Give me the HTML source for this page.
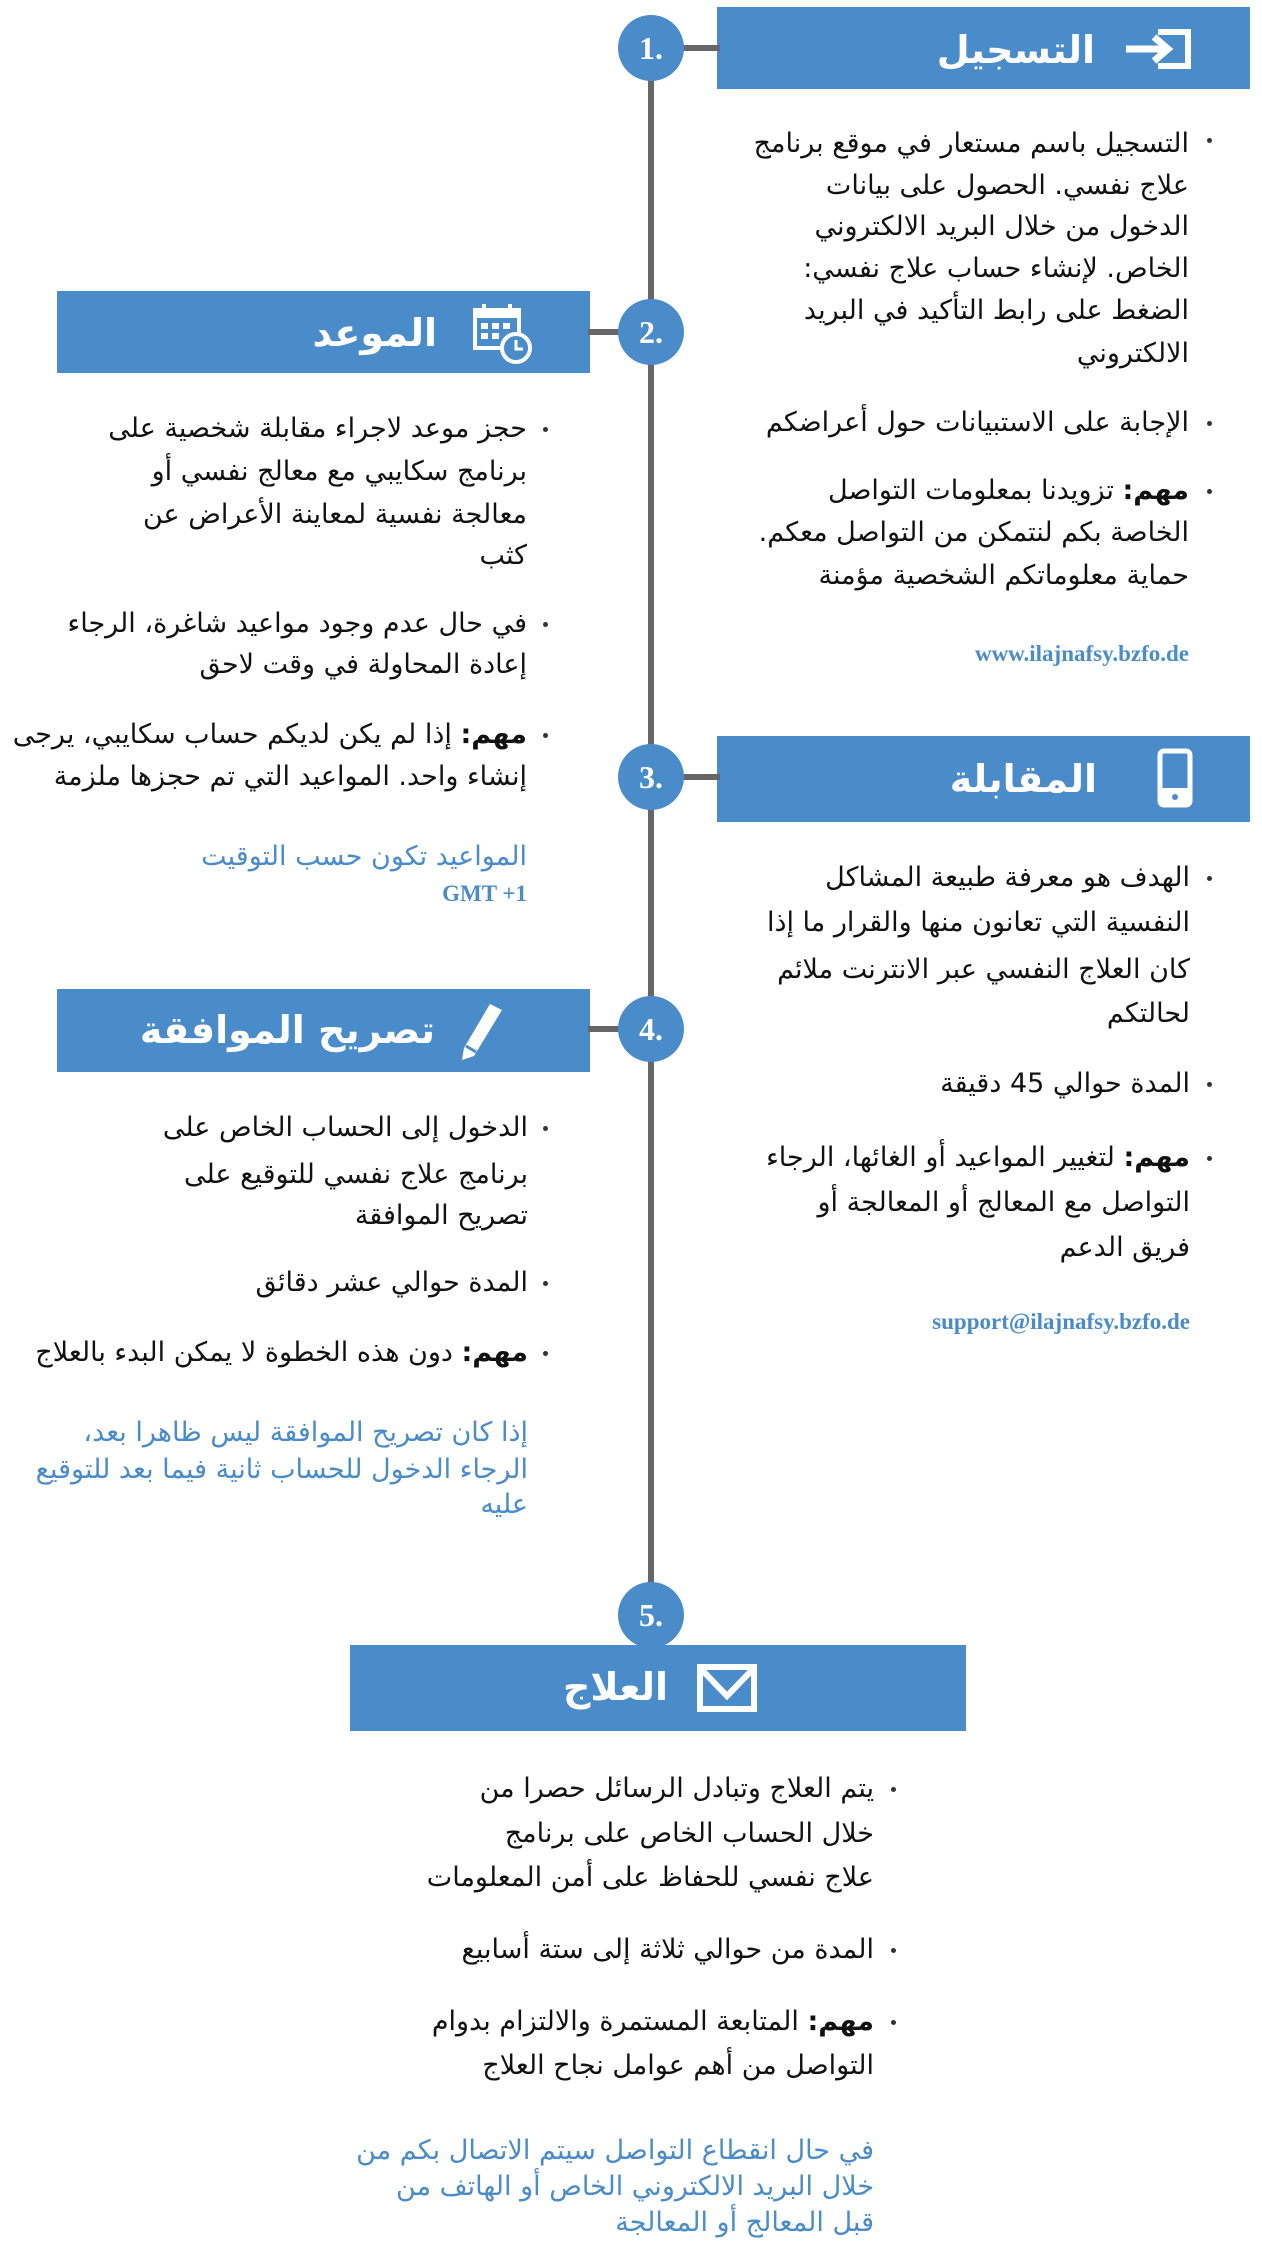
<!DOCTYPE html>
<html><head><meta charset="utf-8"><style>
body{margin:0;width:1262px;height:2258px;background:#fff;position:relative;overflow:hidden;font-family:"DejaVu Sans","Liberation Sans",sans-serif}
.a{position:absolute}
.box{position:absolute;background:#4a8cc9}
.c{position:absolute;width:66px;height:66px;border-radius:50%;background:#4a8cc9;color:#fff;font:bold 32px "Liberation Serif",serif;text-align:center;line-height:66px}
.h{position:absolute;height:6px;background:#666}
.t{position:absolute;direction:rtl;white-space:nowrap;font-size:27px;line-height:40px;color:#111}
.b{color:#4a8cc9}
.u{position:absolute;white-space:nowrap;font:bold 23px "Liberation Serif",serif;color:#4a8cc9;line-height:30px}
.d{position:absolute;width:5px;height:5px;border-radius:50%;background:#333}
.ti{position:absolute;direction:rtl;white-space:nowrap;color:#fff;font-weight:bold;font-size:38px;line-height:50px}
</style></head><body>
<div class="a" style="left:648px;top:48px;width:6px;height:1570px;background:#666"></div>

<div class="box" style="left:717px;top:7px;width:533px;height:82px"></div>
<div class="h" style="left:680px;top:45px;width:40px"></div>
<div class="c" style="left:618px;top:15px">1.</div>
<div class="ti" style="right:167px;top:25px">التسجيل</div>
<svg class="a" style="left:1124px;top:28px" width="68" height="42" viewBox="0 0 68 42"><path d="M34 4H64V38H34" fill="none" stroke="#fff" stroke-width="6"/><path d="M2 21H42M30 9L44 21L30 33" fill="none" stroke="#fff" stroke-width="7"/></svg>

<div class="box" style="left:57px;top:291px;width:533px;height:82px"></div>
<div class="h" style="left:588px;top:329px;width:40px"></div>
<div class="c" style="left:618px;top:299px">2.</div>
<div class="ti" style="right:825px;top:308px">الموعد</div>
<svg class="a" style="left:472px;top:302px" width="60" height="62" viewBox="0 0 60 62"><rect x="3" y="8" width="44" height="38" fill="none" stroke="#fff" stroke-width="4"/><rect x="3" y="8" width="44" height="8" fill="#fff"/><path d="M12 2V12M38 2V12" stroke="#fff" stroke-width="4"/><g fill="#fff"><rect x="9" y="21" width="7" height="6"/><rect x="20" y="21" width="7" height="6"/><rect x="31" y="21" width="7" height="6"/><rect x="9" y="31" width="7" height="6"/><rect x="20" y="31" width="7" height="6"/></g><circle cx="44" cy="46" r="14" fill="#4a8cc9" stroke="#fff" stroke-width="4"/><path d="M44 38V47H51" fill="none" stroke="#fff" stroke-width="3"/></svg>

<div class="box" style="left:717px;top:736px;width:533px;height:86px"></div>
<div class="h" style="left:680px;top:774px;width:40px"></div>
<div class="c" style="left:618px;top:744px">3.</div>
<div class="ti" style="right:165px;top:754px">المقابلة</div>
<svg class="a" style="left:1157px;top:748px" width="36" height="60" viewBox="0 0 36 60"><rect x="3" y="3" width="30" height="54" rx="4" fill="none" stroke="#fff" stroke-width="5"/><rect x="3" y="40" width="30" height="17" fill="#fff"/><circle cx="18" cy="49" r="3" fill="#4a8cc9"/></svg>

<div class="box" style="left:57px;top:989px;width:533px;height:83px"></div>
<div class="h" style="left:588px;top:1026px;width:40px"></div>
<div class="c" style="left:618px;top:996px">4.</div>
<div class="ti" style="right:827px;top:1005px">تصريح الموافقة</div>
<svg class="a" style="left:460px;top:1000px" width="46" height="62" viewBox="0 0 46 62"><path d="M30 4L42 10L14 56L2 60L4 48Z" fill="#fff"/><path d="M6 46L16 52" stroke="#4a8cc9" stroke-width="3"/></svg>

<div class="c" style="left:618px;top:1582px">5.</div>
<div class="box" style="left:350px;top:1645px;width:616px;height:86px"></div>
<div class="ti" style="right:594px;top:1662px">العلاج</div>
<svg class="a" style="left:697px;top:1664px" width="60" height="48" viewBox="0 0 60 48"><rect x="3" y="3" width="54" height="42" fill="none" stroke="#fff" stroke-width="6"/><path d="M5 6L30 32L55 6" fill="none" stroke="#fff" stroke-width="6"/></svg>

<!-- col1 -->
<div class="d" style="left:1207px;top:138px"></div>
<div class="t" style="right:73px;top:124px">التسجيل باسم مستعار في موقع برنامج</div>
<div class="t" style="right:73px;top:166px">علاج نفسي. الحصول على بيانات</div>
<div class="t" style="right:73px;top:207px">الدخول من خلال البريد الالكتروني</div>
<div class="t" style="right:73px;top:249px">الخاص. لإنشاء حساب علاج نفسي:</div>
<div class="t" style="right:73px;top:291px">الضغط على رابط التأكيد في البريد</div>
<div class="t" style="right:73px;top:334px">الالكتروني</div>
<div class="d" style="left:1207px;top:421px"></div>
<div class="t" style="right:73px;top:403px">الإجابة على الاستبيانات حول أعراضكم</div>
<div class="d" style="left:1207px;top:489px"></div>
<div class="t" style="right:73px;top:471px"><b>مهم:</b> تزويدنا بمعلومات التواصل</div>
<div class="t" style="right:73px;top:513px">الخاصة بكم لنتمكن من التواصل معكم.</div>
<div class="t" style="right:73px;top:556px">حماية معلوماتكم الشخصية مؤمنة</div>
<div class="u" style="right:73px;top:639px">www.ilajnafsy.bzfo.de</div>

<!-- col2 -->
<div class="d" style="left:543px;top:427px"></div>
<div class="t" style="right:735px;top:409px">حجز موعد لاجراء مقابلة شخصية على</div>
<div class="t" style="right:735px;top:452px">برنامج سكايبي مع معالج نفسي أو</div>
<div class="t" style="right:735px;top:495px">معالجة نفسية لمعاينة الأعراض عن</div>
<div class="t" style="right:735px;top:536px">كثب</div>
<div class="d" style="left:543px;top:622px"></div>
<div class="t" style="right:735px;top:604px">في حال عدم وجود مواعيد شاغرة، الرجاء</div>
<div class="t" style="right:735px;top:645px">إعادة المحاولة في وقت لاحق</div>
<div class="d" style="left:543px;top:733px"></div>
<div class="t" style="right:735px;top:715px"><b>مهم:</b> إذا لم يكن لديكم حساب سكايبي، يرجى</div>
<div class="t" style="right:735px;top:757px">إنشاء واحد. المواعيد التي تم حجزها ملزمة</div>
<div class="t b" style="right:735px;top:837px">المواعيد تكون حسب التوقيت</div>
<div class="u" style="right:735px;top:879px">GMT +1</div>

<!-- col3 -->
<div class="d" style="left:1207px;top:876px"></div>
<div class="t" style="right:72px;top:858px">الهدف هو معرفة طبيعة المشاكل</div>
<div class="t" style="right:72px;top:903px">النفسية التي تعانون منها والقرار ما إذا</div>
<div class="t" style="right:72px;top:950px">كان العلاج النفسي عبر الانترنت ملائم</div>
<div class="t" style="right:72px;top:994px">لحالتكم</div>
<div class="d" style="left:1207px;top:1082px"></div>
<div class="t" style="right:72px;top:1064px">المدة حوالي 45 دقيقة</div>
<div class="d" style="left:1207px;top:1156px"></div>
<div class="t" style="right:72px;top:1138px"><b>مهم:</b> لتغيير المواعيد أو الغائها، الرجاء</div>
<div class="t" style="right:72px;top:1183px">التواصل مع المعالج أو المعالجة أو</div>
<div class="t" style="right:72px;top:1228px">فريق الدعم</div>
<div class="u" style="right:72px;top:1307px">support@ilajnafsy.bzfo.de</div>

<!-- col4 -->
<div class="d" style="left:543px;top:1126px"></div>
<div class="t" style="right:734px;top:1108px">الدخول إلى الحساب الخاص على</div>
<div class="t" style="right:734px;top:1155px">برنامج علاج نفسي للتوقيع على</div>
<div class="t" style="right:734px;top:1196px">تصريح الموافقة</div>
<div class="d" style="left:543px;top:1281px"></div>
<div class="t" style="right:734px;top:1263px">المدة حوالي عشر دقائق</div>
<div class="d" style="left:543px;top:1351px"></div>
<div class="t" style="right:734px;top:1333px"><b>مهم:</b> دون هذه الخطوة لا يمكن البدء بالعلاج</div>
<div class="t b" style="right:734px;top:1416px;line-height:34px">إذا كان تصريح الموافقة ليس ظاهرا بعد،</div>
<div class="t b" style="right:734px;top:1453px;line-height:34px">الرجاء الدخول للحساب ثانية فيما بعد للتوقيع</div>
<div class="t b" style="right:734px;top:1488px;line-height:34px">عليه</div>

<!-- col5 -->
<div class="d" style="left:891px;top:1787px"></div>
<div class="t" style="right:388px;top:1769px">يتم العلاج وتبادل الرسائل حصرا من</div>
<div class="t" style="right:388px;top:1814px">خلال الحساب الخاص على برنامج</div>
<div class="t" style="right:388px;top:1858px">علاج نفسي للحفاظ على أمن المعلومات</div>
<div class="d" style="left:891px;top:1948px"></div>
<div class="t" style="right:388px;top:1930px">المدة من حوالي ثلاثة إلى ستة أسابيع</div>
<div class="d" style="left:891px;top:2020px"></div>
<div class="t" style="right:388px;top:2002px"><b>مهم:</b> المتابعة المستمرة والالتزام بدوام</div>
<div class="t" style="right:388px;top:2046px">التواصل من أهم عوامل نجاح العلاج</div>
<div class="t b" style="right:388px;top:2134px;line-height:34px">في حال انقطاع التواصل سيتم الاتصال بكم من</div>
<div class="t b" style="right:388px;top:2170px;line-height:34px">خلال البريد الالكتروني الخاص أو الهاتف من</div>
<div class="t b" style="right:388px;top:2206px;line-height:34px">قبل المعالج أو المعالجة</div>
</body></html>
